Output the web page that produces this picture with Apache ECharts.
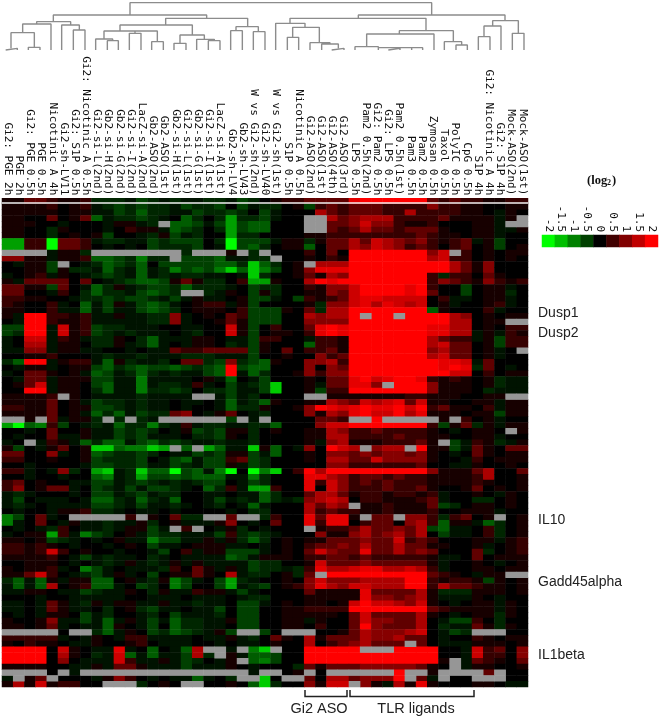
<!DOCTYPE html>
<html><head><meta charset="utf-8">
<style>html,body{margin:0;padding:0;background:#fff}#c{width:661px;height:719px;filter:blur(0.45px)}</style>
<script src="https://cdn.jsdelivr.net/npm/echarts@6/dist/echarts.min.js"></script>
</head><body><div id="c"></div>
<script>
const columnLabels = ["Gi2: PGE 2h","PGE 2h","Gi2: PGE 0.5h","PGE 0.5h","Nicotinic A 4h","Gi2-sh-LV11","Gi2: S1P 0.5h","Gi2: Nicotinic A 0.5h","Gi2-si-L(2nd)","Gb2-si-H(2nd)","Gb2-si-G(2nd)","Gi2-si-I(2nd)","LacZ-si-A(2nd)","Gb2-ASO(2nd)","Gb2-ASO(1st)","Gb2-si-H(1st)","Gi2-si-L(1st)","Gb2-si-G(1st)","Gi2-si-I(1st)","LacZ-si-A(1st)","Gb2-sh-LV4","Gb2-sh-LV43","W vs Gi2-sh(2nd)","Gi2-sh-LV40","W vs Gi2-sh(1st)","S1P 0.5h","Nicotinic A 0.5h","Gi2-ASO(2nd)","Gi2-ASO(1st)","Gi2-ASO(4th)","Gi2-ASO(3rd)","LPS 0.5h","Pam2 0.5h(2nd)","Gi2: Pam2 0.5h","Gi2: LPS 0.5h","Pam2 0.5h(1st)","Pam3 0.5h","Pam2 0.5h","Zymosan 0.5h","Taxol 0.5h","PolyIC 0.5h","CpG 0.5h","S1P 4h","Gi2: Nicotinic A 4h","Gi2: S1P 4h","Mock-ASO(2nd)","Mock-ASO(1st)"];

// One string per gene row, one character per column. Digits 1-8 = rising red levels,
// letters a-h = rising green levels, 0 = zero, "." = missing. Spaces only group columns.
const redLevels = [0, 0.18, 0.42, 0.75, 1.05, 1.35, 1.6, 1.8, 2];
const greenLevels = [-0.15, -0.3, -0.5, -0.72, -0.95, -1.25, -1.6, -2];
const cellRows = [
"11332112 bbbacba baabbacb 01223333 7888888 323221122",
"11112012 abcbcbb acbbc0ca bb01c232 3332222 422110011",
"11111011 aacbdbb aacbbcb0 ca000532 3332252 222110a10",
"11003013 dabbcba 0db0bfbb ca00..53 4555222 231111a1.",
"11100a00 0a11ab. ddcacfcd d000..33 4644211 200011a..",
"1100b100 0a0211a dcb0bfcd d000..32 3533233 310011aa1",
"1100b010 1c00ab1 cab00fbb 00001122 2222223 211011a00",
"ff22h332 abbaacb ccc0bhcc ca11b133 5365434 2123a1c00",
"ff22h332 0a0a0cb bbc0ahcd b011d033 5465423 202301c01",
"....a11b ....... .b...1.b .0002030 8888888 46.201011",
"4411a112 ddcbebb .cccdaab b.001021 8888888 562201010",
"0a11c.0a bdcbd0c ccccddbg db01.555 8888888 885314000",
"0011c1bb adbadab ecdcegdg ec014777 8888888 885314000",
"a012a10a bcbadab abbaa0ag b0013154 8888888 2b2203100",
"1a333303 0abcddc 131bb02f f1005878 8888888 243214212",
"3311c30a db1abcc bdbbba0c bb002144 6888878 200c011a0",
"3300a20b dbbacdc b..ba10c 1b001143 6888878 300c011b0",
"221100ab bcbccba ca1aa01c ca0c2123 6776666 02aa011a0",
"21002a0d ac1acdc a0122a1c 00001b44 6757656 01a0012a0",
"11002aad acaacdc b011102c cc103b55 8888888 d10002a00",
"1a882212 aa1aabb 4a01032c cc005455 8.88.88 885401011",
"0a882112 aaaaabb 4a00131c cc004444 8888888 8855011..",
"cc88a612 cbbaaa0 0aa0061c 02003787 8888888 775501022",
"cb88a612 cbabaaa 0ab0061c 01102787 8888888 7755a1a21",
"a066a21a bb10bda aa110aac 2200a221 8888888 5322a1c22",
"a055a110 bb1abda 0a110bac 1000d221 8888888 56330 1c22",
"aa44a11a a00a0aa 3223333c 10302231 8888888 453301a0.",
"00112000 abaabaa abbbaaac 00100423 8888888 563301a00",
"bd88a122 ad1baab 033bc4bc d1004452 8888888 8776a3000",
"0a11a011 cdbcdcc dcbcd8cd d0004043 8888888 8787b30a0",
"a033101a dcabdba baacd8ad b0014244 8888888 886602011",
"0a33a111 ccaaeaa aa01ad0a c0001033 7867887 212101baa",
"0136a110 cdaaeab ba2a0cab cg001a33 774.888 411101baa",
"0088a110 bdaaebb cb0bbcaa cg001c22 8888888 41110baaa",
"11112.10 aaaabaa aa..acab 0000..11 1111122 1110011..",
"1111301a cbbabaa 0aa0adab d1001154 3656736 110011a11",
"22113011 ccbabaa 0a00adbb 10014876 7877868 231102a11",
"1111301a dbdacbb 340a130a b0004154 7866857 111011c11",
"..1.3a11 b.b.ba. .....c.a .0000332 ..8.... .1.201a00",
"fhde2c0a badbbeb a2abbaab bd000466 8888888 2c13b1a11",
"00a03001 aacbcb0 a1cbc11b 01001154 2232222 10a0110.1",
"0a003aa1 aacbcaa a0bbc10b 00001155 2222322 110011a00",
"a0.a21ad bddacdb cbaabaab 00001a45 1112223 1.ca21ba1",
"1c0a1301 ggdeegf .d.fdaag 1d0a4086 5.455.8 11ca31033",
"33004a01 dcbbcb0 aacbc11c ad001044 3434434 10a031011",
"22001001 cbbbc0a cdacc23c b0001055 3364444 100a20111",
"00a0000a ccbbcaa cbacc1ac b0000044 2222223 00aa10010",
"22a0a4b0 fgabgdd hcdaeh0h eg028588 8888888 411135003",
"00a00a00 deabfcc dcdddaae b0007754 2332322 111125001",
"230100aa ccabcba babcc0ac b0007264 2323222 111121001",
"240133a0 cbacacc ba0db2af f2007064 2223223 100130101",
"aba000a0 ccabcab b00aa0aa db003553 1221221 2a0010a10",
"ac0aaa0a ddbadba d00acaba dbab4565 0221112 3a00bb010",
"aba0aaaa ccbacaa ba0ab0ad a0005354 .112111 3cb011010",
"0a00a112 bba0aa0 a0000a0b b0005232 2112111 200111a00",
"ec03a0.. ...2.10 3bb..3.. b2007377 1.33.44 2b2301.01",
"ea030a1a abaa1b0 1aaa140a 03007277 0233045 2d11adb01",
"0a0ab20a aba11ca .2.0a1b0 a000.122 3533435 cdaa02b01",
"a011f2ae cb01acb baaac2bc ba000411 4534535 0caa02b01",
"1101cba0 a01aaec caa1a1bd b0101133 3433623 200011a12",
"221210a0 0a010ca a0111aa0 a0102334 3533533 11001a012",
"22126201 00a00ac 02a11ccc a0103643 3733534 30003b012",
"111120ac abaa0ba 0aaaadca 11102233 2322222 1aa030111",
"001110a0 aba1aba 1a1aaaac bb001633 3433333 1a0010a01",
"10112a0e ca0aaab 2031a1ac bbab2755 6775565 2a0011011",
"113620ab ca1a0c0 113105ab b01b3.88 8888888 3210a11..",
"bdad1a11 dd01ab1 eca0cfba 00104644 4555588 21221c101",
"adad5012 dda0cb0 ec00cfab c0124754 6655588 253321101",
"aa110aac baa10b1 aa211aca 00003111 1733335 1bbb11101",
"000a00aa aaa00aa a0aaa0ab b0001111 1744345 1aaa10a00",
"aa0a31ab 1a11aa1 aabaa0cc a0101101 6866546 10a011a10",
"aa0a31aa 0b01bca a0aac0cc 00112222 8888888 321111a10",
"0a0a110c ab00ab0 caaab0cc 00111110 3633335 10a011b10",
"10014aac ada1aca dbbaa1cc 0011a100 3644335 0acc20b00",
"11013a0a ad10ac0 dbbaa0cc 00110200 3843335 0baa31b10",
".....0.. bda10cb dcba1c.. c0...001 3544456 0acb...00",
"22222a0a 10a22aa aa0aa1ab 03105133 3544533 0a0021011",
"102110aa 100120a aa00a0aa 01005023 45333.3 0aaa11101",
"88880610 aa7a0d0 ad5..a.e g.008888 8...888 800a62304",
"88880510 ba6dada ac5b.1ad dc008888 8888888 800a62204",
"8888040a aa62aa1 acb0a1.d ec008888 8888888 81.a32103",
"111100aa 1a331aa acaaa10a 000b3133 3444443 10.a11001",
"....0.a. ....... .......a ..01.0.. ....8.. 1....3.00",
"a.13.000 a1420a0 aada0b.. g0..3055 34448.3 a.00...00",
"15161220 0...b01 0..0010d gb004166 .41a517 1000110aa"
];

const geneLabels = ["Dusp1","Dusp2","IL10","Gadd45alpha","IL1beta"];
const geneLabelY = [313,333,520,582,655];

const legendValues = [-2,-1.5,-1,-0.5,0,0.5,1,1.5,2];
const legendLabels = ["-2","-1.5","-1","-0.5","0","0.5","1","1.5","2"];

// Dendrogram merges: [left x, left drop end, right x, right drop end, bar level] in tree units
const treeMerges = [
[390,45,1295,45,8],[160,65,620,55,45],[110,72,212,75,65],[68,98,153,150,72],[33,145,103,142,98],
[17,150,52,150,145],[85,150,120,150,142],[185,150,238,90,75],[220,150,255,150,90],[497,75,743,80,55],
[360,93,577,105,75],[312,117,472,125,93],[405,100,405,100,93],[287,150,338,122,117],[322,150,355,150,122],
[388,150,423,150,100],[455,150,490,150,125],[540,130,613,118,105],[522,150,558,150,130],[590,150,643,122,118],
[625,150,660,150,122],[708,92,775,95,80],[692,150,727,150,92],[760,150,795,150,95],
[1075,55,1515,62,45],[870,70,1278,92,55],[827,150,915,82,70],[878,112,958,128,82],[862,150,896,150,112],
[930,150,990,132,128],[965,150,1015,145,132],[995,150,1032,150,145],[1198,102,1360,125,92],[1100,140,1302,150,102],
[1065,150,1135,143,140],[1135,150,1268,150,143],[1165,150,1200,150,145],[1235,150,1235,150,145],
[1333,150,1385,135,125],[1368,150,1402,150,135],[1478,78,1555,100,62],[1452,110,1503,150,78],
[1435,150,1470,150,110],[1537,150,1572,150,100]
];

const levelOf = ch => {
  if (ch === '.') return null;
  if (ch >= '0' && ch <= '8') return redLevels[+ch];
  return greenLevels[ch.charCodeAt(0) - 97];
};
const cleanRows = cellRows.map(r => r.replace(/\s/g, ''));
const bad = cleanRows.map((r,i)=>r.length===47?null:i+':'+r.length).filter(Boolean);
if (bad.length) throw new Error('row lengths ' + bad.join(','));

const values = [], missing = [];
cleanRows.forEach((r, y) => [...r].forEach((ch, x) => {
  const v = levelOf(ch);
  if (v === null) missing.push([x, y, 1]); else values.push([x, y, v]);
}));

const treeLine = [];
treeMerges.forEach(([xl, dl, xr, dr, top]) => {
  treeLine.push([xl, dl], [xl, top], [xr, top], [xr, dr], [null, null]);
});

const ROW_H = 5.75, HEAT_TOP = 198.25;
const rowIds = cleanRows.map((_, i) => String(i));
const noAxisBits = {axisLine: {show: false}, axisTick: {show: false}, splitLine: {show: false}};
const monoLabel = {interval: 0, rotate: 90, margin: 3, color: '#111', fontFamily: 'DejaVu Sans Mono', fontSize: 11};

const chart = echarts.init(document.getElementById('c'), null, {renderer: 'canvas'});
chart.setOption({
  animation: false,
  backgroundColor: '#fff',
  visualMap: {show: false, type: 'continuous', min: -2, max: 2, seriesIndex: [0, 2],
    inRange: {color: ['#00ff00', '#000000', '#ff0000']}},
  grid: [
    {left: 2, top: HEAT_TOP, width: 526, height: ROW_H * cleanRows.length},
    {left: 542, top: 235, width: 116, height: 12},
    {left: 0, top: 0, width: 661, height: 60}
  ],
  xAxis: [
    {type: 'category', gridIndex: 0, position: 'top', data: columnLabels, ...noAxisBits, axisLabel: monoLabel},
    {type: 'category', gridIndex: 1, position: 'top', data: legendLabels, ...noAxisBits, axisLabel: monoLabel},
    {type: 'value', gridIndex: 2, min: 0, max: 1983, show: false}
  ],
  yAxis: [
    {type: 'category', gridIndex: 0, inverse: true, data: rowIds, show: false},
    {type: 'category', gridIndex: 1, data: ['log2'], show: false},
    {type: 'value', gridIndex: 2, min: 0, max: 180, inverse: true, show: false}
  ],
  series: [
    {type: 'heatmap', xAxisIndex: 0, yAxisIndex: 0, data: values, itemStyle: {borderWidth: 0}},
    {type: 'heatmap', xAxisIndex: 0, yAxisIndex: 0, data: missing, itemStyle: {color: '#969696', borderWidth: 0}},
    {type: 'heatmap', xAxisIndex: 1, yAxisIndex: 1, data: legendValues.map((v, i) => [i, 0, v]), itemStyle: {borderWidth: 0}},
    {type: 'line', xAxisIndex: 2, yAxisIndex: 2, data: treeLine, connectNulls: false, symbol: 'none',
     lineStyle: {color: '#8c8c8c', width: 1.4}}
  ],
  graphic: [
    {type: 'rect', z: 100, shape: {x: 2, y: 202.2, width: 526, height: 1.6}, style: {fill: '#f0f0f0'}},
    {type: 'text', z: 100, style: {x: 587, y: 174, text: '(log', fill: '#111', font: 'bold 12.5px "Liberation Serif"'}},
    {type: 'text', z: 100, style: {x: 607, y: 179, text: '2', fill: '#111', font: 'bold 8px "Liberation Serif"'}},
    {type: 'text', z: 100, style: {x: 612, y: 174, text: ')', fill: '#111', font: 'bold 12.5px "Liberation Serif"'}},
    ...geneLabels.map((t, i) => ({type: 'text', z: 100, style: {x: 538, y: geneLabelY[i], text: t, verticalAlign: 'middle', fill: '#222', font: '14px "Liberation Sans"'}})),
    {type: 'polyline', z: 100, shape: {points: [[305,690],[305,696.5],[347,696.5],[347,690]]}, style: {stroke: '#222', fill: 'none', lineWidth: 1.5}},
    {type: 'polyline', z: 100, shape: {points: [[350,690],[350,696.5],[474,696.5],[474,690]]}, style: {stroke: '#222', fill: 'none', lineWidth: 1.5}},
    {type: 'text', z: 100, style: {x: 319, y: 701, text: 'Gi2 ASO', align: 'center', fill: '#222', font: '14.5px "Liberation Sans"'}},
    {type: 'text', z: 100, style: {x: 416, y: 701, text: 'TLR ligands', align: 'center', fill: '#222', font: '14.5px "Liberation Sans"'}}
  ]
});
</script></body></html>
